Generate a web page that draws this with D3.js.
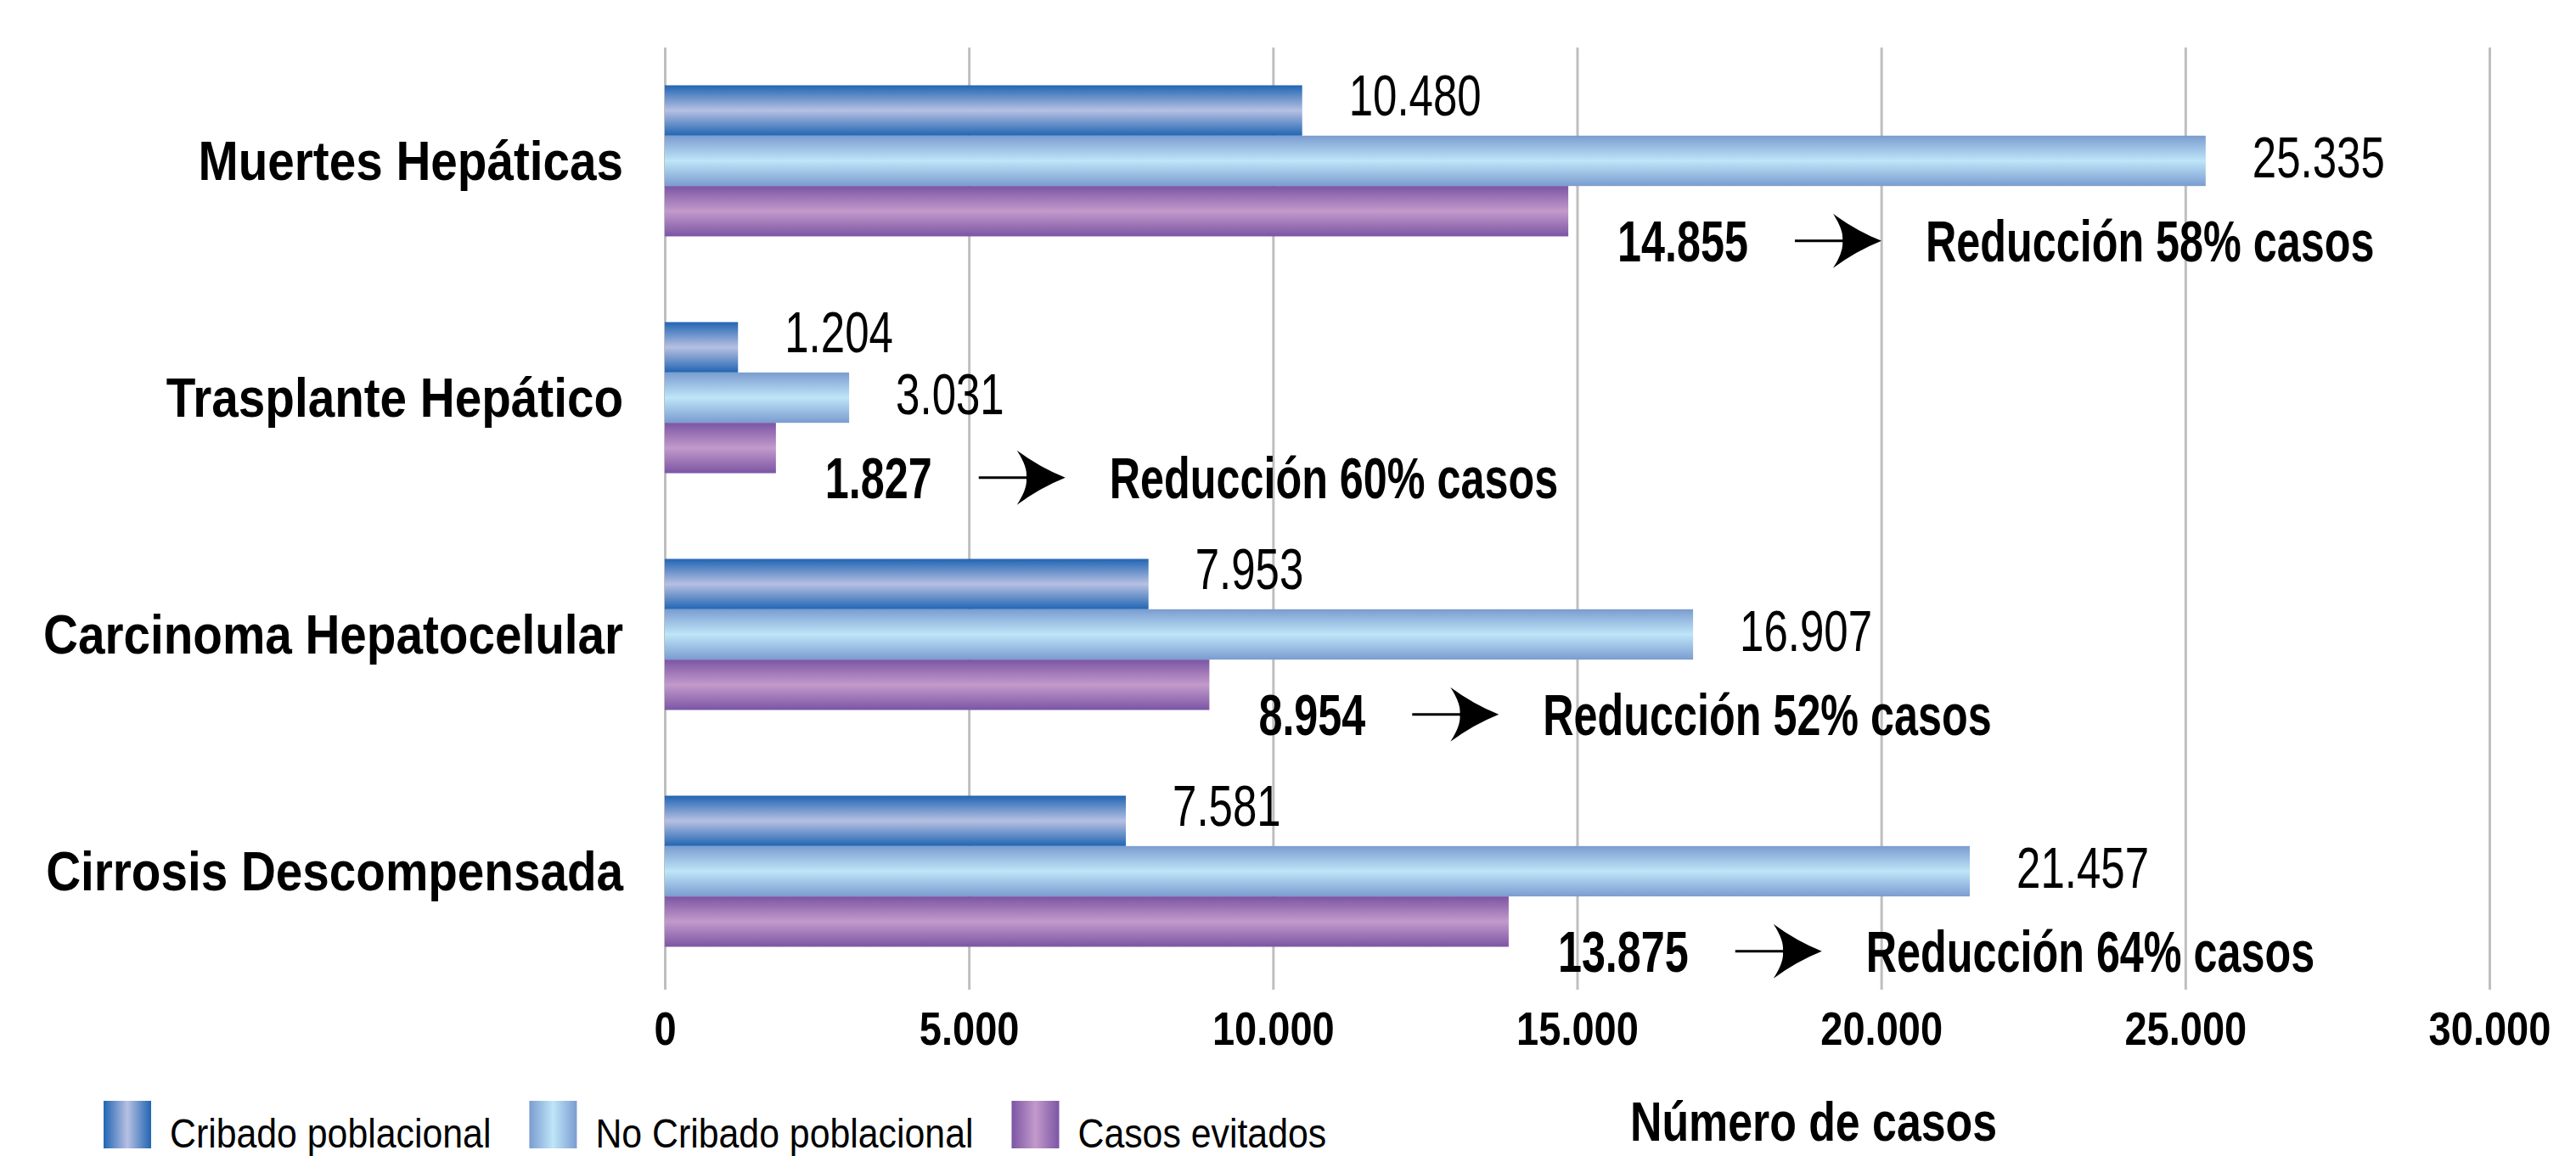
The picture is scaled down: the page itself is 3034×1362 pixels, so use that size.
<!DOCTYPE html>
<html>
<head>
<meta charset="utf-8">
<script src="https://cdn.jsdelivr.net/npm/d3@7"></script>
<style>
body { margin: 0; background: #fff; }
text { font-family: "Liberation Sans", Arial, sans-serif; fill: #000; }
</style>
</head>
<body>
<div id="graphArea"></div>
<script>

var categories = ["Muertes Hepáticas", "Trasplante Hepático", "Carcinoma Hepatocelular", "Cirrosis Descompensada"]
var seriesNames = ["Cribado poblacional", "No Cribado poblacional", "Casos evitados"]
var cribado = [10480, 1204, 7953, 7581]
var noCribado = [25335, 3031, 16907, 21457]
var evitados = [14855, 1827, 8954, 13875]
var reduccion = [58, 60, 52, 64]
var xTicks = [0, 5000, 10000, 15000, 20000, 25000, 30000]
var axisTitle = "Número de casos"

// gradient stops per series: edge, centre
var gradColors = [["#2165b3", "#b6c0e2"], ["#7a9cd0", "#bee5f8"], ["#7b55a4", "#c39acb"]]
var labelShift = [-18, -4]

var width = 3034, height = 1362

var svg = d3.select("#graphArea").append("svg")
	.attr("width", width)
	.attr("height", height)

svg.append("rect").attr("width", width).attr("height", height).attr("fill", "#fff")

var es = d3.formatLocale({ decimal: ",", thousands: ".", grouping: [3], currency: ["", "€"] })
var fmt = es.format(",d")

var x = d3.scaleLinear().domain([0, 30000]).range([783, 2932])
var y = d3.scaleBand().domain(categories).range([50, 1166]).paddingInner(0.362).paddingOuter(0.181)
var ySub = d3.scaleBand().domain([0, 1, 2]).range([0, y.bandwidth()])

var defs = svg.append("defs")
gradColors.forEach(function (c, i) {
	var v = defs.append("linearGradient").attr("id", "grad" + i)
		.attr("x1", 0).attr("y1", 0).attr("x2", 0).attr("y2", 1)
	var h = defs.append("linearGradient").attr("id", "gradH" + i)
		.attr("x1", 0).attr("y1", 0).attr("x2", 1).attr("y2", 0)
	;[v, h].forEach(function (g) {
		g.append("stop").attr("offset", "0%").attr("stop-color", c[0])
		g.append("stop").attr("offset", "50%").attr("stop-color", c[1])
		g.append("stop").attr("offset", "100%").attr("stop-color", c[0])
	})
})

// grid + tick labels
var xAxis = d3.axisBottom(x)
	.tickValues(xTicks)
	.tickFormat(fmt)
	.tickSize(-1110)
	.tickPadding(25)

var gx = svg.append("g")
	.attr("transform", "translate(0,1166)")
	.call(xAxis)
gx.select(".domain").remove()
gx.selectAll(".tick line").attr("stroke", "#bfbfbf").attr("stroke-width", 3)
gx.selectAll(".tick text")
	.attr("font-size", 56)
	.attr("font-weight", "bold")
	.attr("font-family", '"Liberation Sans", Arial, sans-serif')
	.attr("fill", "#000")
	.attr("transform", "scale(0.84,1)")

var rows = categories.map(function (c, i) {
	return { cat: c, values: [cribado[i], noCribado[i], evitados[i]], red: reduccion[i] }
})

var groups = svg.selectAll(".grupo")
	.data(rows)
	.enter()
	.append("g")
	.attr("class", "grupo")
	.attr("transform", function (d) { return "translate(0," + y(d.cat) + ")" })

groups.selectAll("rect")
	.data(function (d) { return d.values })
	.enter()
	.append("rect")
	.attr("x", x(0))
	.attr("y", function (d, i) { return ySub(i) })
	.attr("width", function (d) { return x(d) - x(0) })
	.attr("height", ySub.bandwidth())
	.attr("fill", function (d, i) { return "url(#grad" + i + ")" })

groups.selectAll(".valor")
	.data(function (d) { return d.values.slice(0, 2) })
	.enter()
	.append("text")
	.attr("class", "valor")
	.attr("transform", function (d, i) {
		return "translate(" + (x(d) + 55) + "," + (ySub(i) + ySub.bandwidth() / 2 + labelShift[i]) + ") scale(0.75,1)"
	})
	.attr("dy", "0.35em")
	.attr("font-size", 68)
	.text(fmt)

// evitados value + arrow + reduction note
groups.each(function (d) {
	var g = d3.select(this)
	var cy = ySub(2) + ySub.bandwidth() / 2 + 35
	var x0 = x(d.values[2]) + 58
	var t = g.append("text")
		.attr("transform", "translate(" + x0 + "," + cy + ") scale(0.74,1)")
		.attr("dy", "0.35em")
		.attr("font-size", 68)
		.attr("font-weight", "bold")
		.text(fmt(d.values[2]))
	var w = t.node().getComputedTextLength() * 0.74
	var a0 = x0 + w + 55, tip = a0 + 102
	g.append("line")
		.attr("x1", a0).attr("x2", tip - 40)
		.attr("y1", cy).attr("y2", cy)
		.attr("stroke", "#000").attr("stroke-width", 3)
	g.append("path")
		.attr("d", "M" + tip + "," + cy +
			" Q" + (tip - 30) + "," + (cy - 12) + " " + (tip - 57) + "," + (cy - 32) +
			" Q" + (tip - 44) + "," + (cy - 12) + " " + (tip - 46) + "," + cy +
			" Q" + (tip - 44) + "," + (cy + 12) + " " + (tip - 57) + "," + (cy + 32) +
			" Q" + (tip - 30) + "," + (cy + 12) + " " + tip + "," + cy + "Z")
		.attr("fill", "#000")
	g.append("text")
		.attr("transform", "translate(" + (tip + 52) + "," + cy + ") scale(0.74,1)")
		.attr("dy", "0.35em")
		.attr("font-size", 68)
		.attr("font-weight", "bold")
		.text("Reducción " + d.red + "% casos")
})

// category labels
svg.selectAll(".cat")
	.data(categories)
	.enter()
	.append("text")
	.attr("class", "cat")
	.attr("transform", function (d) { return "translate(734," + (y(d) + y.bandwidth() / 2) + ") scale(0.885,1)" })
	.attr("dy", "0.35em")
	.attr("text-anchor", "end")
	.attr("font-size", 64)
	.attr("font-weight", "bold")
	.text(function (d) { return d })

// legend
var lx = 122
seriesNames.forEach(function (s, i) {
	svg.append("rect")
		.attr("x", lx).attr("y", 1297)
		.attr("width", 56).attr("height", 56)
		.attr("fill", "url(#gradH" + i + ")")
	var t = svg.append("text")
		.attr("transform", "translate(" + (lx + 78) + ",1352) scale(0.874,1)")
		.attr("font-size", 49)
		.text(s)
	lx += 78 + t.node().getComputedTextLength() * 0.874 + 45
})

svg.append("text")
	.attr("transform", "translate(1920,1344) scale(0.81,1)")
	.attr("font-size", 64)
	.attr("font-weight", "bold")
	.text(axisTitle)

</script>
</body>
</html>
